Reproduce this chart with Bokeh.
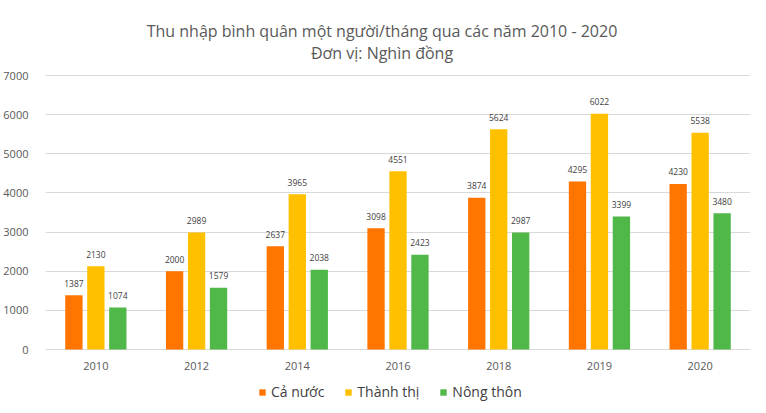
from bokeh.plotting import figure
from bokeh.models import ColumnDataSource, FactorRange, Range1d, Legend, LegendItem, FixedTicker
from bokeh.core.properties import value
from bokeh.transform import dodge
from bokeh.embed import file_html
from bokeh.resources import INLINE

years = ["2010", "2012", "2014", "2016", "2018", "2019", "2020"]
ca_nuoc = [1387, 2000, 2637, 3098, 3874, 4295, 4230]
thanh_thi = [2130, 2989, 3965, 4551, 5624, 6022, 5538]
nong_thon = [1074, 1579, 2038, 2423, 2987, 3399, 3480]
series_names = ["Cả nước", "Thành thị", "Nông thôn"]
y_ticks = [0, 1000, 2000, 3000, 4000, 5000, 6000, 7000]
title_1 = "Thu nhập bình quân một người/tháng qua các năm 2010 - 2020"
title_2 = "Đơn vị: Nghìn đồng"

colors = ["#FF7500", "#FFC000", "#50B848"]
FONT = "Open Sans"

# pixel layout (frame spans whole height; value axis occupies 274 px for 0..7000)
H = 405
PX_TOP = 75      # pixel row of 7000
PX_ZERO = 349    # pixel row of 0
ymax = max(y_ticks)
upp = ymax / (PX_ZERO - PX_TOP)  # units per pixel
y_end = ymax + PX_TOP * upp
y_start = -(H - PX_ZERO) * upp

src = ColumnDataSource(dict(
    years=years,
    a=ca_nuoc, b=thanh_thi, c=nong_thon,
    at=[str(v) for v in ca_nuoc], bt=[str(v) for v in thanh_thi], ct=[str(v) for v in nong_thon],
))

p = figure(width=758, height=H, x_range=FactorRange(*years, range_padding=0),
           y_range=Range1d(y_start, y_end), output_backend="svg", toolbar_location=None,
           x_axis_location=None,
           min_border_left=43, min_border_right=8, min_border_top=0, min_border_bottom=0)
p.outline_line_color = None
p.background_fill_color = "white"
p.border_fill_color = "white"

offsets = [-0.218, 0.0, 0.218]
cols = ["a", "b", "c"]
tcols = ["at", "bt", "ct"]
renderers = []
for off, col, tcol, color in zip(offsets, cols, tcols, colors):
    r = p.vbar(x=dodge("years", off, range=p.x_range), top=col, width=0.172, source=src,
               fill_color=color, line_color=None)
    renderers.append(r)
    p.text(x=dodge("years", off, range=p.x_range), y=col, text=tcol, source=src,
           text_align="center", text_baseline="middle", y_offset=-12,
           text_font_size="8.5px", text_color="#404040", text_font=value(FONT))

# category labels under the baseline
p.text(x="years", y=0, text="years", source=src, text_align="center", text_baseline="middle",
       y_offset=16, text_font_size="11px", text_color="#595959", text_font=value(FONT))

# y axis
p.yaxis.ticker = FixedTicker(ticks=y_ticks)
p.yaxis.axis_line_color = None
p.yaxis.major_tick_line_color = None
p.yaxis.minor_tick_line_color = None
p.yaxis.major_label_standoff = 11
p.yaxis.major_label_text_font_size = "11px"
p.yaxis.major_label_text_color = "#595959"
p.yaxis.major_label_text_font = FONT

p.xgrid.grid_line_color = None
p.ygrid.ticker = FixedTicker(ticks=y_ticks)
p.ygrid.grid_line_color = "#D9D9D9"
p.ygrid.grid_line_width = 1

# titles
p.text(x=["2016"], y=[ymax], text=[title_1], x_offset=-16, y_offset=-45,
       text_align="center", text_baseline="middle", text_font_size="16px",
       text_color="#595959", text_font=value(FONT))
p.text(x=["2016"], y=[ymax], text=[title_2], x_offset=-16, y_offset=-23,
       text_align="center", text_baseline="middle", text_font_size="16px",
       text_color="#595959", text_font=value(FONT))

legend = Legend(items=[LegendItem(label=n, renderers=[r]) for n, r in zip(series_names, renderers)],
                orientation="horizontal", location=(213, 4), padding=0, spacing=20, margin=0,
                glyph_width=8, glyph_height=8, label_standoff=5, label_height=16,
                label_text_font_size="14px", label_text_color="#404040", label_text_font=FONT,
                border_line_color=None, background_fill_alpha=0)
p.add_layout(legend, "center")

open("out.html", "w").write(file_html(p, INLINE))
